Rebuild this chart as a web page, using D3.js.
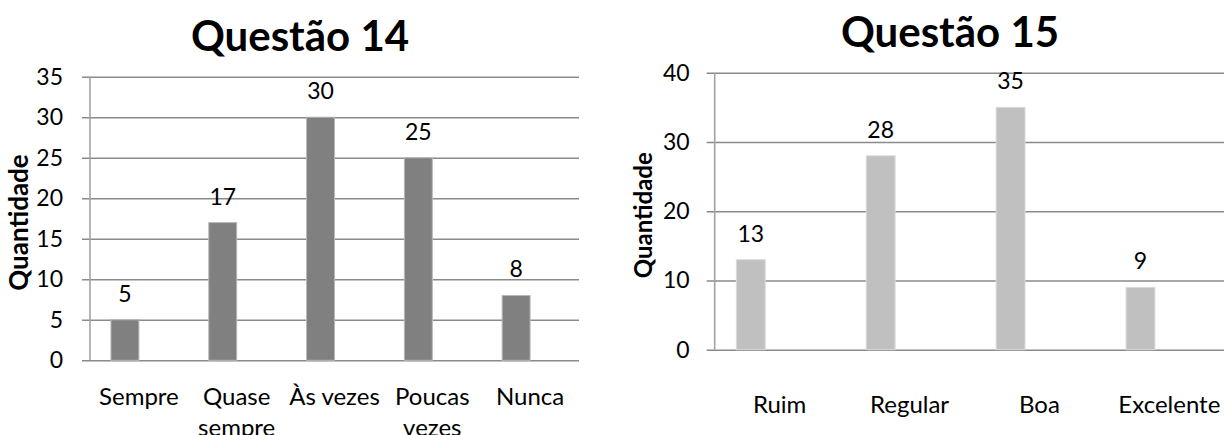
<!DOCTYPE html>
<html>
<head>
<meta charset="utf-8">
<script src="https://cdn.jsdelivr.net/npm/d3@7"></script>
<style>
  html, body { margin: 0; padding: 0; background: #ffffff; }
  svg { display: block; font-family: Lato, "Open Sans", sans-serif; }
</style>
</head>
<body>
<svg id="chart" width="1224" height="435"></svg>
<script>
// Questão 14 – frequency answers
const q14Categories = ["Sempre", "Quase sempre", "Às vezes", "Poucas vezes", "Nunca"];
const q14Values = [5, 17, 30, 25, 8];
const q14Ticks = [0, 5, 10, 15, 20, 25, 30, 35];

// Questão 15 – rating answers
const q15Categories = ["Ruim", "Regular", "Boa", "Excelente"];
const q15Values = [13, 28, 35, 9];
const q15Ticks = [0, 10, 20, 30, 40];

const svg = d3.select("#chart");
const W = 1224, H = 435;

svg.append("defs").append("clipPath").attr("id", "page")
  .append("rect").attr("width", W).attr("height", H);

// break a category name over several lines when it is wider than its band
function wrapLabel(textSel, maxWidth, lineHeight) {
  textSel.each(function () {
    const t = d3.select(this);
    const words = t.text().split(/\s+/);
    const x = t.attr("x");
    t.text(null);
    let line = [];
    let tspan = t.append("tspan").attr("x", x).attr("dy", 0);
    words.forEach(w => {
      line.push(w);
      tspan.text(line.join(" "));
      if (tspan.node().getComputedTextLength() > maxWidth && line.length > 1) {
        line.pop();
        tspan.text(line.join(" "));
        line = [w];
        tspan = t.append("tspan").attr("x", x).attr("dy", lineHeight).text(w);
      }
    });
  });
}

function drawChart(cfg) {
  const g = svg.append("g").attr("clip-path", "url(#page)");
  const n = cfg.categories.length;

  const x = d3.scaleBand()
    .domain(cfg.categories)
    .range([cfg.left, cfg.left + n * cfg.step])
    .paddingInner(0).paddingOuter(0);

  const y = d3.scaleLinear()
    .domain([0, d3.max(cfg.ticks)])
    .range([cfg.bottom, cfg.top]);

  // gridlines (they also form the value-axis tick marks left of the axis)
  const grid = d3.axisRight(y)
    .tickValues(cfg.ticks)
    .tickSize(cfg.gridRight - (cfg.left - 8))
    .tickFormat("");
  g.append("g")
    .attr("transform", `translate(${cfg.left - 8},0)`)
    .call(grid)
    .call(s => s.select(".domain").remove())
    .call(s => s.selectAll("line").attr("stroke", "#8a8a8a").attr("stroke-width", 1.6));

  // vertical value axis line
  g.append("line")
    .attr("x1", cfg.left).attr("x2", cfg.left)
    .attr("y1", y(d3.max(cfg.ticks))).attr("y2", y(0))
    .attr("stroke", "#a3a3a3").attr("stroke-width", 1.6);

  // value tick labels
  const yAxis = d3.axisLeft(y)
    .tickValues(cfg.ticks)
    .tickSize(0)
    .tickPadding(cfg.labelGap);
  g.append("g")
    .attr("transform", `translate(${cfg.left - 8},0)`)
    .call(yAxis)
    .call(s => s.select(".domain").remove())
    .call(s => s.selectAll("text")
      .attr("font-family", "Lato, sans-serif")
      .attr("font-size", 23)
      .attr("fill", "#000"));

  // bars
  const barW = x.step() * cfg.barFrac;
  const barOff = x.step() * cfg.offFrac;
  g.selectAll("rect.bar")
    .data(cfg.values)
    .join("rect")
    .attr("class", "bar")
    .attr("x", (d, i) => x(cfg.categories[i]) + barOff)
    .attr("width", barW)
    .attr("y", d => y(d))
    .attr("height", d => y(0) - y(d))
    .attr("fill", cfg.color)
    .attr("stroke", cfg.edge)
    .attr("stroke-width", 1);

  // value labels above the bars
  g.selectAll("text.val")
    .data(cfg.values)
    .join("text")
    .attr("class", "val")
    .attr("x", (d, i) => x(cfg.categories[i]) + barOff + barW / 2)
    .attr("y", d => y(d) - 18)
    .attr("text-anchor", "middle")
    .attr("font-size", 23)
    .attr("fill", "#000")
    .text(d => d);

  // category labels
  g.selectAll("text.cat")
    .data(cfg.categories)
    .join("text")
    .attr("class", "cat")
    .attr("x", d => x(d) + x.step() / 2)
    .attr("y", cfg.catBaseline)
    .attr("text-anchor", "middle")
    .attr("font-size", 24)
    .attr("fill", "#000")
    .text(d => d)
    .call(wrapLabel, x.step() - 2, 31);

  // chart title
  g.append("text")
    .attr("x", cfg.titleX).attr("y", cfg.titleY)
    .attr("text-anchor", "middle")
    .attr("font-size", 42).attr("font-weight", 700)
    .attr("fill", "#000")
    .text(cfg.title);

  // value axis title
  const midY = (y(0) + y(d3.max(cfg.ticks))) / 2 + cfg.yTitleShift;
  g.append("text")
    .attr("transform", `translate(${cfg.yTitleX},${midY}) rotate(-90)`)
    .attr("text-anchor", "middle")
    .attr("font-size", cfg.yTitleSize).attr("font-weight", 700)
    .attr("fill", "#000")
    .text("Quantidade");
}

drawChart({
  title: "Questão 14", titleX: 300, titleY: 51,
  categories: q14Categories, values: q14Values, ticks: q14Ticks,
  left: 90, step: 97.8, gridRight: 579,
  top: 76.7, bottom: 360.3,
  barFrac: 1 / 3.5, offFrac: 0.75 / 3.5,
  color: "#808080", edge: "#b8b8b8",
  labelGap: 19, catBaseline: 405,
  yTitleX: 28, yTitleSize: 26, yTitleShift: 4
});

drawChart({
  title: "Questão 15", titleX: 950, titleY: 47,
  categories: q15Categories, values: q15Values, ticks: q15Ticks,
  left: 714.7, step: 129.9, gridRight: 1226,
  top: 72.7, bottom: 349.7,
  barFrac: 1 / 4.5, offFrac: 0.75 / 4.5,
  color: "#c0c0c0", edge: "#dadada",
  labelGap: 17, catBaseline: 413,
  yTitleX: 652, yTitleSize: 24, yTitleShift: 4
});
</script>
</body>
</html>
